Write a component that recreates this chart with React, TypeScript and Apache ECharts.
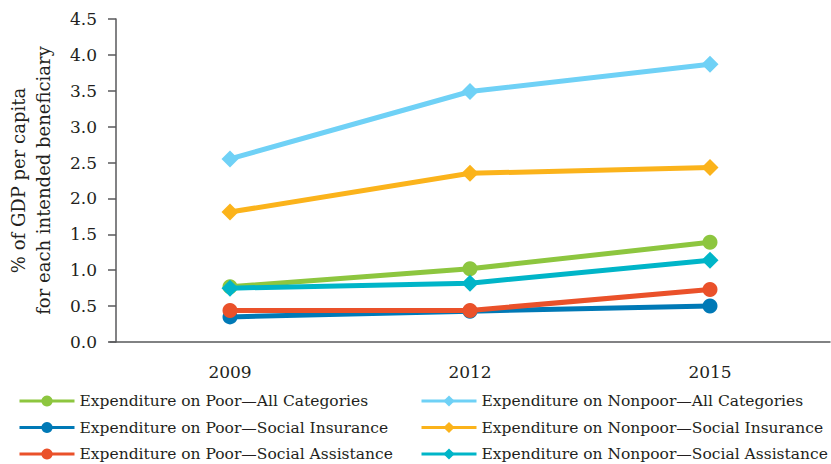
import React, { useEffect, useRef } from "react";
import * as echarts from "echarts";

const years = ["2009", "2012", "2015"];
const poorAll = [0.77, 1.02, 1.39];
const poorSI = [0.35, 0.43, 0.5];
const poorSA = [0.44, 0.44, 0.73];
const nonpoorAll = [2.55, 3.49, 3.87];
const nonpoorSI = [1.81, 2.35, 2.43];
const nonpoorSA = [0.75, 0.82, 1.14];

const names = [
  "Expenditure on Poor\u2014All Categories",
  "Expenditure on Poor\u2014Social Insurance",
  "Expenditure on Poor\u2014Social Assistance",
  "Expenditure on Nonpoor\u2014All Categories",
  "Expenditure on Nonpoor\u2014Social Insurance",
  "Expenditure on Nonpoor\u2014Social Assistance",
];
const colors = ["#8dc63f", "#0079b6", "#ea512a", "#6fd1f6", "#fbb31b", "#00b5c8"];
const seriesData = [poorAll, poorSI, poorSA, nonpoorAll, nonpoorSI, nonpoorSA];
const symbols = ["circle", "circle", "circle", "diamond", "diamond", "diamond"];

const FONT = "DejaVu Serif";

export default function App() {
  const ref = useRef<HTMLDivElement>(null);
  useEffect(() => {
    document.body.style.margin = "0";
    const chart = echarts.init(ref.current!, null, { renderer: "svg" });
    const rowCenters = [401, 427.5, 454];
    const colLefts = [18, 420];
    const legends = names.map((n, i) => ({
      orient: "horizontal",
      left: colLefts[Math.floor(i / 3)],
      top: rowCenters[i % 3] - 8,
      padding: 0,
      itemWidth: 55,
      itemHeight: 14,
      lineStyle: { width: 3 },
      textStyle: { fontFamily: FONT, fontSize: 15.5, color: "#231f20", lineHeight: 16 },
      data: [n],
    }));
    chart.setOption({
      animation: false,
      color: colors,
      grid: {
        left: 110,
        right: 1,
        top: 19,
        bottom: 122,
        containLabel: false,
        outerBoundsMode: "none",
      },
      legend: legends,
      xAxis: {
        type: "category",
        data: years,
        boundaryGap: true,
        axisLine: { lineStyle: { color: "#58595b", width: 1.5 } },
        axisTick: { show: false },
        axisLabel: { fontFamily: FONT, fontSize: 17, color: "#231f20", margin: 21 },
      },
      yAxis: {
        type: "value",
        min: 0,
        max: 4.5,
        interval: 0.5,
        offset: -6,
        name: "% of GDP per capita\nfor each intended beneficiary",
        nameLocation: "middle",
        nameGap: 60,
        nameTextStyle: { fontFamily: FONT, fontSize: 18, color: "#231f20", lineHeight: 25 },
        splitLine: { show: false },
        axisLine: { show: true, lineStyle: { color: "#58595b", width: 1.5 } },
        axisTick: { show: true, length: 8, lineStyle: { color: "#58595b", width: 1.5 } },
        axisLabel: {
          fontFamily: FONT,
          fontSize: 17,
          color: "#231f20",
          margin: 19,
          formatter: (v: number) => v.toFixed(1),
        },
      },
      series: seriesData.map((d, i) => ({
        name: names[i],
        type: "line",
        data: d,
        symbol: symbols[i],
        symbolSize: i < 3 ? 15 : 17,
        lineStyle: { width: 5, color: colors[i] },
        itemStyle: { color: colors[i] },
        z: 2 + i,
      })),
    });
    return () => chart.dispose();
  }, []);
  return <div ref={ref} style={{ width: 831, height: 464 }} />;
}
